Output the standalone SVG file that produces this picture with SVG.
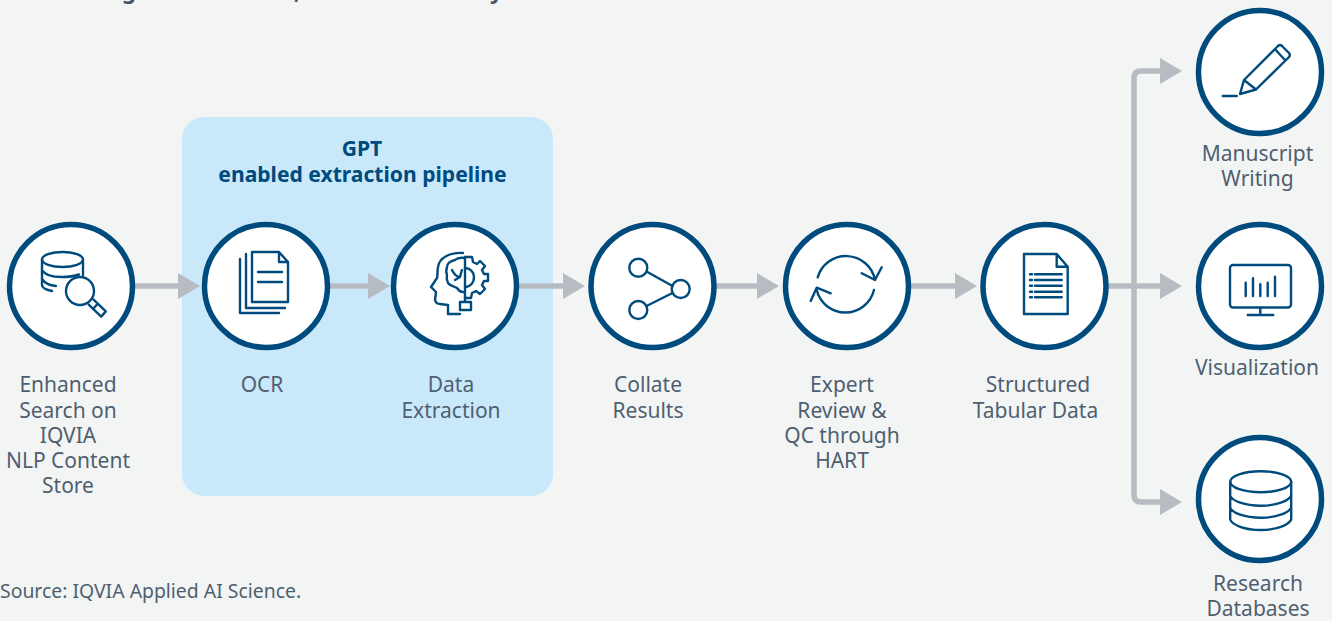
<svg xmlns="http://www.w3.org/2000/svg" width="1332" height="621" viewBox="0 0 1332 621">
<defs>
<style>
text{font-family:"Noto Sans","Open Sans",sans-serif}
.lb{font-size:21px;fill:#4f5f70;text-anchor:middle}
.tt{font-size:21.100px;font-weight:700;fill:#004b7d;text-anchor:middle}
.top{font-size:22px;font-weight:700;fill:#3f5468}
.ring{fill:#fff;stroke:#004b7d;stroke-width:5.500}
.ic{fill:none;stroke:#004b7d;stroke-width:2.400;stroke-linecap:round;stroke-linejoin:round}
.ln{fill:none;stroke:#b7bcc3;stroke-width:5.500}
.hd{fill:#b7bcc3}
</style>
<marker id="ah" markerUnits="userSpaceOnUse" markerWidth="22" markerHeight="26" refX="0" refY="13" orient="auto"><path class="hd" d="M0 0L22 13L0 26Z"/></marker>
</defs>
<rect width="1332" height="621" fill="#f3f5f5"/>
<text class="top" x="122" y="-1.500">g</text>
<text class="top" x="294" y="-1.500">,</text>
<text class="top" x="490" y="-1.500">y</text>
<rect id="pipeline-panel" x="182" y="117" width="371" height="379" rx="22" fill="#c9e9fa"/>
<text class="tt" x="362" y="156">GPT</text>
<text class="tt" x="362.500" y="181.500">enabled extraction pipeline</text>
<g id="connectors">
<path class="ln" marker-end="url(#ah)" d="M135 286H178"/>
<path class="ln" marker-end="url(#ah)" d="M330 286H368"/>
<path class="ln" marker-end="url(#ah)" d="M519 286H563"/>
<path class="ln" marker-end="url(#ah)" d="M716 286H757"/>
<path class="ln" marker-end="url(#ah)" d="M911 286H955"/>
<path class="ln" marker-end="url(#ah)" d="M1108 286H1160"/>
<path class="ln" marker-end="url(#ah)" d="M1134 286V78Q1134 71 1141 71H1160"/>
<path class="ln" marker-end="url(#ah)" d="M1134 286V495Q1134 502 1141 502H1160"/>
</g>
<g id="node-search">
<circle class="ring" cx="71" cy="286" r="61.500"/>
<path class="ic" d="M42 259.500V285Q42 289 52 291M83 259.500V275M42 270Q46 277 62 277Q72 277 79 274.500M42 279Q46 285 56 286"/>
<ellipse class="ic" cx="62.500" cy="259.500" rx="20.500" ry="7.500"/>
<circle class="ic" cx="80" cy="291" r="14"/>
<path class="ic" d="M93.300 299.400L105.800 311.400L101.200 316.600L88.700 304.600M93 309L97.500 304"/>
<text class="lb" x="68" y="392">Enhanced</text>
<text class="lb" x="68" y="418">Search on</text>
<text class="lb" x="68" y="443">IQVIA</text>
<text class="lb" x="68" y="468">NLP Content</text>
<text class="lb" x="68" y="493">Store</text>
</g>
<g id="node-ocr">
<circle class="ring" cx="266" cy="286" r="61.500"/>
<path class="ic" d="M252 252H279L288 262V302H252ZM279 252V262H288M246 254V308H285M240 259V313H279M258 272H282M258 282H282"/>
<text class="lb" x="262" y="392">OCR</text>
</g>
<g id="node-extraction">
<circle class="ring" cx="455" cy="286" r="61.500"/>
<path class="ic" d="M463 253C450 252 439 258 438 267C437 272 438 275 437 278L431 287L436 292L435 300Q436 304 440 304L448 305V314H460"/>
<path class="ic" d="M465 257V302M460 302H471V310H460ZM465 258C459 257 456 259 455 260C450 261 447 264 447 267C446 270 446 273 447 275C446 279 447 281 448 283C450 286 454 286 457 288C459 291 461 292 463 292"/>
<path class="ic" d="M465 257H472L473 262L477 264L480 261L485 266L482 270L484 274H488V281H484L482 285L485 289L480 294L476 291L472 293L471 298H465"/>
<path class="ic" d="M465 268C470 268 474 272 474 277C474 283 470 287 465 287M452 270C454 274 457 277 460 277C461 274 461 272 462 270M455 280L460 277"/>
<text class="lb" x="451" y="392">Data</text>
<text class="lb" x="451" y="418">Extraction</text>
</g>
<g id="node-collate">
<circle class="ring" cx="652.500" cy="286" r="61.500"/>
<circle class="ic" cx="638.300" cy="267.700" r="9"/>
<circle class="ic" cx="638.300" cy="310" r="9"/>
<circle class="ic" cx="680.700" cy="289" r="9"/>
<path class="ic" d="M646.500 271.500L672.500 286M646.500 306L672.500 293"/>
<text class="lb" x="648" y="392">Collate</text>
<text class="lb" x="648" y="418">Results</text>
</g>
<g id="node-review">
<circle class="ring" cx="847" cy="286" r="61.500"/>
<path class="ic" d="M817.700 277.300A29.500 29.500 0 0 1 875 280M861.700 273.300L875 280L881.700 267.300M874 290A29.500 29.500 0 0 1 816.700 290M830.700 293.300L816.700 287.700L810.700 301"/>
<text class="lb" x="842" y="392">Expert</text>
<text class="lb" x="842" y="418">Review &amp;</text>
<text class="lb" x="842" y="443">QC through</text>
<text class="lb" x="842" y="468">HART</text>
</g>
<g id="node-tabular">
<circle class="ring" cx="1044.500" cy="286" r="61.500"/>
<path class="ic" d="M1024 254H1056.700L1067.700 266.700V314H1024ZM1056.700 254V266.700H1067.700M1030 274.300H1032M1035 274.300H1061.700M1030 280H1032M1035 280H1061.700M1030 285.700H1032M1035 285.700H1061.700M1030 291.700H1032M1035 291.700H1061.700M1030 297.300H1032M1035 297.300H1061.700"/>
<text class="lb" x="1038" y="392">Structured</text>
<text class="lb" x="1035.500" y="418">Tabular Data</text>
</g>
<g id="node-writing">
<circle class="ring" cx="1260" cy="72" r="61.500"/>
<path class="ic" d="M1222.700 96H1236.700M1240 94L1244 80L1277 47Q1280 43 1283 47L1289 53Q1291 56 1288 58L1256 89.500ZM1244 80L1256 89.500M1275 49.300L1285 60"/>
<text class="lb" x="1257.500" y="161">Manuscript</text>
<text class="lb" x="1257.500" y="186">Writing</text>
</g>
<g id="node-visualization">
<circle class="ring" cx="1260" cy="286" r="61.500"/>
<rect class="ic" x="1230" y="265" width="61" height="42.500" rx="3"/>
<path class="ic" d="M1260.300 308V315M1247.700 315H1273.300M1245.700 282.700V296M1253 278.300V296M1260.300 284.300V296M1267.700 282.700V296M1275 276.700V296"/>
<text class="lb" x="1257" y="375">Visualization</text>
</g>
<g id="node-databases">
<circle class="ring" cx="1260" cy="499" r="61.500"/>
<ellipse class="ic" cx="1260.700" cy="481.700" rx="30.500" ry="10.500"/>
<path class="ic" d="M1230.200 481.700V519.500C1232 525 1245 530 1260.700 530C1276 530 1289 525 1291.200 519.500V481.700M1230.200 495.500C1232 501 1245 505.700 1260.700 505.700C1276 505.700 1289 501 1291.200 495.500M1230.200 507.500C1232 513 1245 517.700 1260.700 517.700C1276 517.700 1289 513 1291.200 507.500"/>
<text class="lb" x="1258" y="591">Research</text>
<text class="lb" x="1258" y="616">Databases</text>
</g>
<text x="0" y="598" font-size="19.400" fill="#4f5f70">Source: IQVIA Applied AI Science.</text>
</svg>
